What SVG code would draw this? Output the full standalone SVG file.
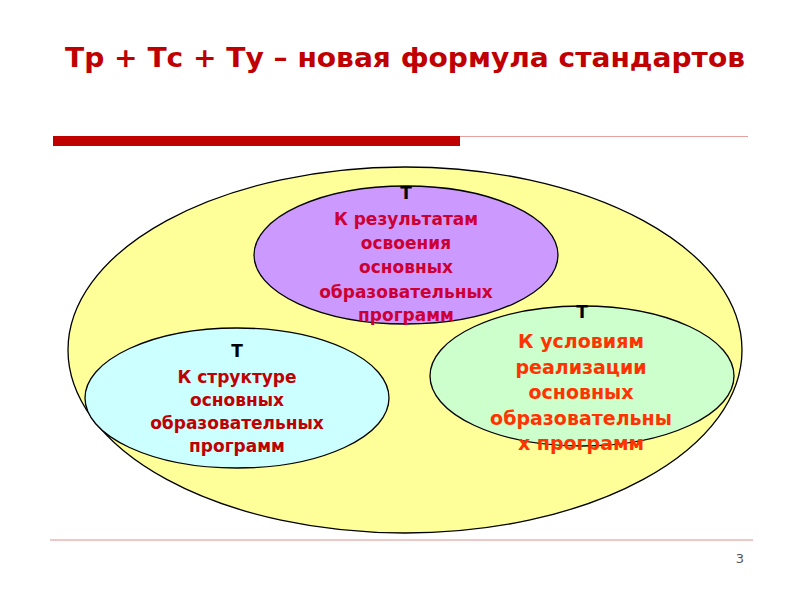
<svg xmlns="http://www.w3.org/2000/svg" width="800" height="600" viewBox="0 0 800 600">
<style>
.title{font-family:"DejaVu Sans","Liberation Sans",sans-serif;font-weight:bold;font-size:27px;fill:#C00000}
.t{font-family:"DejaVu Sans","Liberation Sans",sans-serif;font-weight:bold;font-size:17px;fill:#000;text-anchor:middle}
.lbl{font-family:"DejaVu Sans","Liberation Sans",sans-serif;font-weight:bold;font-size:17px;text-anchor:middle}
.big{font-size:19px}
.ell{stroke:#000;stroke-width:1.3}
</style>
<rect width="800" height="600" fill="#fff"/>
<text class="title" x="65" y="67" textLength="680" lengthAdjust="spacingAndGlyphs">Тр + Тс + Ту – новая формула стандартов</text>
<rect x="53" y="136" width="407" height="10" fill="#C00000"/>
<line x1="460" y1="136.5" x2="748" y2="136.5" stroke="#E8A0A0" stroke-width="1"/>
<g id="outer"><ellipse class="ell" cx="405" cy="350" rx="337" ry="183" fill="#FFFF99"/></g>
<g id="node-results">
<ellipse class="ell" cx="406" cy="255" rx="152" ry="69" fill="#CC99FF"/>
<text class="t" x="406" y="199">Т</text>
<text class="lbl" fill="#CC0033"><tspan x="406" y="225">К результатам</tspan><tspan x="406" y="249">освоения</tspan><tspan x="406" y="273">основных</tspan><tspan x="406" y="298">образовательных</tspan><tspan x="406" y="321">программ</tspan></text>
</g>
<g id="node-structure">
<ellipse class="ell" cx="237" cy="398" rx="152" ry="70" fill="#CCFFFF"/>
<text class="t" x="237" y="357">Т</text>
<text class="lbl" fill="#C00000"><tspan x="237" y="383">К структуре</tspan><tspan x="237" y="406">основных</tspan><tspan x="237" y="429">образовательных</tspan><tspan x="237" y="452">программ</tspan></text>
</g>
<g id="node-conditions">
<ellipse class="ell" cx="582" cy="376" rx="152" ry="70" fill="#CCFFCC"/>
<text class="t" x="582" y="318">Т</text>
<text class="lbl big" fill="#FF3300"><tspan x="581" y="348">К условиям</tspan><tspan x="581" y="374">реализации</tspan><tspan x="581" y="399">основных</tspan><tspan x="581" y="425">образовательны</tspan><tspan x="581" y="450">х программ</tspan></text>
</g>
<g id="connectors"></g>
<line x1="50" y1="540" x2="753" y2="540" stroke="#E09090" stroke-width="1.2"/>
<text x="744" y="563" font-family="DejaVu Sans,sans-serif" font-size="13" fill="#555" text-anchor="end">3</text>
</svg>
